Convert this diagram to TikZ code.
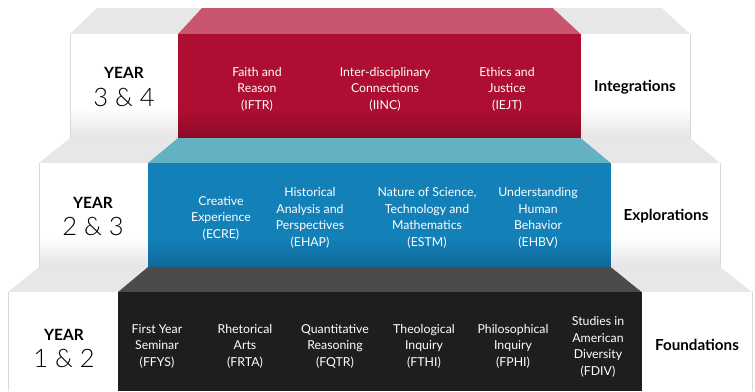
\documentclass[tikz,border=0pt]{standalone}
\usepackage{fontspec}
\setmainfont{Lato}
\newfontfamily\lightfont{Lato Light}
\definecolor{redfront}{HTML}{AD0E31}
\definecolor{redshade}{HTML}{8C0A27}
\definecolor{redtop}{HTML}{C9556F}
\definecolor{bluefront}{HTML}{1380B8}
\definecolor{blueshade}{HTML}{0F6898}
\definecolor{bluetop}{HTML}{64B1C2}
\definecolor{blackfront}{HTML}{1E1E1E}
\definecolor{blackshade}{HTML}{151515}
\definecolor{blacktop}{HTML}{4B4B4B}
\definecolor{whitetop}{HTML}{E7E7E7}
\definecolor{whiteshade}{HTML}{E4E4E4}
\definecolor{whiteedge}{HTML}{DADADA}
\tikzset{
  course/.style={text=white, align=center, font=\fontsize{12.3}{16.5}\selectfont},
  yearword/.style={font=\bfseries\fontsize{15.5}{15.5}\selectfont},
  yearnum/.style={font=\lightfont\fontsize{25.5}{26}\selectfont},
  tiername/.style={font=\bfseries\fontsize{15.2}{16}\selectfont},
  edge/.style={draw=whiteedge, line width=0.6pt},
}
\begin{document}
\begin{tikzpicture}[x=1pt, y=-1pt]
  \useasboundingbox (0,0) rectangle (755,391);
  % year 3 & 4
  \fill[whitetop] (97,8) -- (202,8) -- (178,34) -- (70,34) -- cycle;
  \fill[redtop] (202,8) -- (553,8) -- (581,34) -- (178,34) -- cycle;
  \fill[whitetop] (553,8) -- (662,8) -- (690,34) -- (581,34) -- cycle;
  \fill[white] (70,34) rectangle (178,138);
  \shade[top color=white, bottom color=whiteshade] (70,108) rectangle (178,138);
  \fill[redfront] (178,34) rectangle (581,138);
  \shade[top color=redfront, bottom color=redshade] (178,110) rectangle (581,138);
  \fill[white] (581,34) rectangle (690,138);
  \shade[top color=white, bottom color=whiteshade] (581,108) rectangle (690,138);
  \draw[edge] (70,138) -- (70,34) (690,34) -- (690,138);
  % year 2 & 3
  \fill[whitetop] (70,138) -- (178,138) -- (148,163) -- (39,163) -- cycle;
  \fill[bluetop] (178,138) -- (581,138) -- (611,163) -- (148,163) -- cycle;
  \fill[whitetop] (581,138) -- (690,138) -- (720,163) -- (611,163) -- cycle;
  \fill[white] (39,163) rectangle (148,267);
  \shade[top color=white, bottom color=whiteshade] (39,237) rectangle (148,267);
  \fill[bluefront] (148,163) rectangle (611,267);
  \shade[top color=bluefront, bottom color=blueshade] (148,239) rectangle (611,267);
  \fill[white] (611,163) rectangle (720,267);
  \shade[top color=white, bottom color=whiteshade] (611,237) rectangle (720,267);
  \draw[edge] (39,267) -- (39,163) (720,163) -- (720,267);
  % year 1 & 2
  \fill[whitetop] (39,267) -- (148,267) -- (118,292) -- (8,292) -- cycle;
  \fill[blacktop] (148,267) -- (611,267) -- (642,292) -- (118,292) -- cycle;
  \fill[whitetop] (611,267) -- (720,267) -- (752,292) -- (642,292) -- cycle;
  \fill[white] (8,292) rectangle (118,391);
  \fill[blackfront] (118,292) rectangle (642,391);
  \fill[white] (642,292) rectangle (752,391);
  \draw[edge] (8,391) -- (8,292) (752,292) -- (752,391);

  % texts, year 3 & 4
  \node[yearword] (year34) at (124,73) {YEAR};
  \node[yearnum] (num34) at (124,97) {3 \& 4};
  \node[course] (iftr) at (257,89) {Faith and\\Reason\\(IFTR)};
  \node[course] (iinc) at (385,89) {Inter-disciplinary\\Connections\\(IINC)};
  \node[course] (iejt) at (507,89) {Ethics and\\Justice\\(IEJT)};
  \node[tiername] (integr) at (635,87) {Integrations};
  % texts, year 2 & 3
  \node[yearword] (year23) at (93,203) {YEAR};
  \node[yearnum] (num23) at (93,226) {2 \& 3};
  \node[course] (ecre) at (221,218) {Creative\\Experience\\(ECRE)};
  \node[course] (ehap) at (310,218) {Historical\\Analysis and\\Perspectives\\(EHAP)};
  \node[course] (estm) at (427,218) {Nature of Science,\\Technology and\\Mathematics\\(ESTM)};
  \node[course] (ehbv) at (538,218) {Understanding\\Human\\Behavior\\(EHBV)};
  \node[tiername] (explor) at (666,216) {Explorations};
  % texts, year 1 & 2
  \node[yearword] (year12) at (64,335) {YEAR};
  \node[yearnum] (num12) at (64,358) {1 \& 2};
  \node[course] (ffys) at (157,346) {First Year\\Seminar\\(FFYS)};
  \node[course] (frta) at (245,346) {Rhetorical\\Arts\\(FRTA)};
  \node[course] (fqtr) at (335,346) {Quantitative\\Reasoning\\(FQTR)};
  \node[course] (fthi) at (424,346) {Theological\\Inquiry\\(FTHI)};
  \node[course] (fphi) at (513,346) {Philosophical\\Inquiry\\(FPHI)};
  \node[course] (fdiv) at (598,347) {Studies in\\American\\Diversity\\(FDIV)};
  \node[tiername] (found) at (697,345) {Foundations};
\end{tikzpicture}
\end{document}
